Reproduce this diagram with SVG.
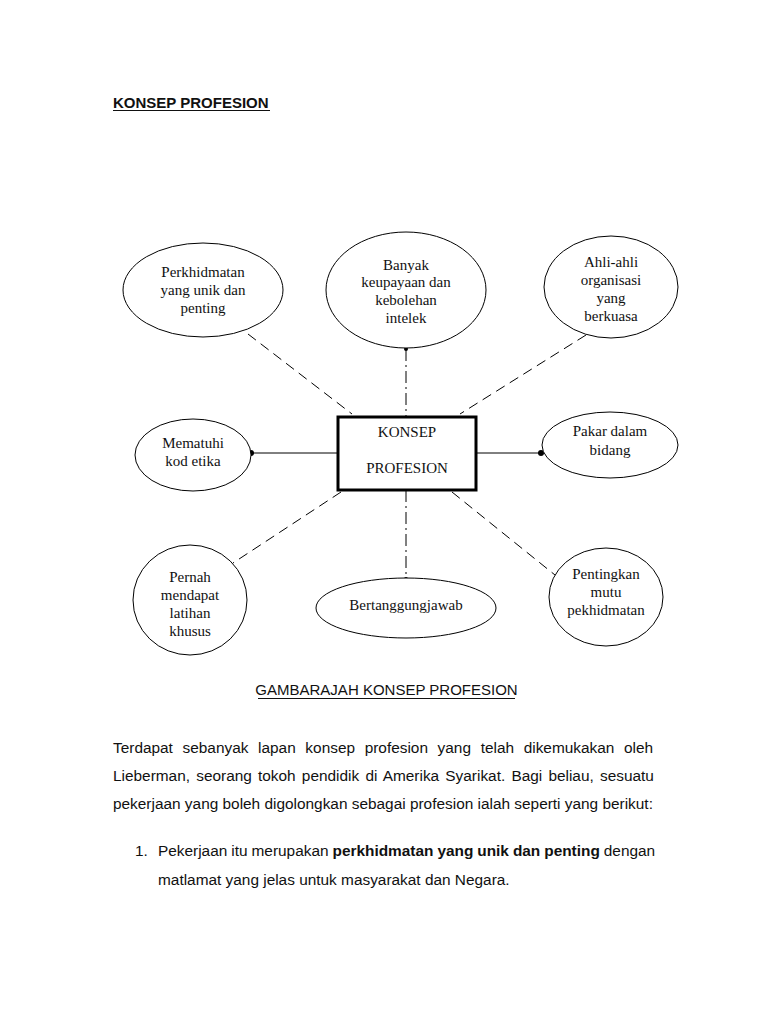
<svg xmlns="http://www.w3.org/2000/svg" width="768" height="1024" viewBox="0 0 768 1024">
<style>
.bg{fill:#ffffff}
.node{fill:#ffffff;stroke:#000;stroke-width:1}
.box{fill:#ffffff;stroke:#000;stroke-width:3}
.nt{font-family:"Liberation Serif","Times New Roman",serif;font-size:15px;fill:#111;text-anchor:middle}
.dash{stroke:#000;stroke-width:1;stroke-dasharray:10 6;fill:none}
.dashdot{stroke:#000;stroke-width:1;stroke-dasharray:12 4 2 4;fill:none}
.solid{stroke:#000;stroke-width:1;fill:none}
.dot{fill:#000}
.body{font-family:"Liberation Sans",Arial,sans-serif;font-size:15.4px;fill:#111}
.title{font-family:"Liberation Sans",Arial,sans-serif;font-size:15px;fill:#111}
.bold{font-weight:bold}
</style>
<rect class="bg" x="0" y="0" width="768" height="1024"/>
<text class="title bold" x="113" y="108">KONSEP PROFESION</text>
<line x1="113" y1="110.5" x2="270" y2="110.5" stroke="#111" stroke-width="1"/>

<g id="connectors">
<line class="dash" x1="248" y1="334" x2="352" y2="414"/>
<line class="dashdot" x1="406" y1="349" x2="406" y2="417"/>
<circle class="dot" cx="406" cy="349" r="2"/>
<line class="dash" x1="586" y1="335" x2="460" y2="414"/>
<line class="solid" x1="251" y1="453" x2="338" y2="453"/>
<circle class="dot" cx="251" cy="453" r="3"/>
<line class="solid" x1="476" y1="453" x2="541" y2="453"/>
<circle class="dot" cx="541" cy="453" r="3"/>
<line class="dash" x1="341" y1="492" x2="233" y2="563"/>
<line class="dashdot" x1="406" y1="490" x2="406" y2="579"/>
<circle class="dot" cx="406" cy="579" r="2"/>
<line class="dash" x1="452" y1="492" x2="555" y2="575"/>
</g>

<g id="n-perkhidmatan">
<ellipse class="node" cx="203" cy="290" rx="80" ry="47"/>
<text class="nt" x="203" y="277">Perkhidmatan</text>
<text class="nt" x="203" y="295">yang unik dan</text>
<text class="nt" x="203" y="313">penting</text>
</g>
<g id="n-banyak">
<ellipse class="node" cx="406" cy="290" rx="80" ry="58"/>
<text class="nt" x="406" y="270">Banyak</text>
<text class="nt" x="406" y="287">keupayaan dan</text>
<text class="nt" x="406" y="305">kebolehan</text>
<text class="nt" x="406" y="323">intelek</text>
</g>
<g id="n-ahli">
<ellipse class="node" cx="611" cy="287" rx="67" ry="51"/>
<text class="nt" x="611" y="267">Ahli-ahli</text>
<text class="nt" x="611" y="285">organisasi</text>
<text class="nt" x="611" y="303">yang</text>
<text class="nt" x="611" y="321">berkuasa</text>
</g>
<g id="n-mematuhi">
<ellipse class="node" cx="193" cy="455" rx="58" ry="36"/>
<text class="nt" x="193" y="448">Mematuhi</text>
<text class="nt" x="193" y="466">kod etika</text>
</g>
<g id="n-konsep">
<rect class="box" x="338" y="417" width="138" height="73"/>
<text class="nt" x="407" y="437">KONSEP</text>
<text class="nt" x="407" y="473">PROFESION</text>
</g>
<g id="n-pakar">
<ellipse class="node" cx="610" cy="445" rx="68" ry="33"/>
<text class="nt" x="610" y="436">Pakar dalam</text>
<text class="nt" x="610" y="455">bidang</text>
</g>
<g id="n-pernah">
<ellipse class="node" cx="190" cy="600" rx="57" ry="55"/>
<text class="nt" x="190" y="582">Pernah</text>
<text class="nt" x="190" y="600">mendapat</text>
<text class="nt" x="190" y="618">latihan</text>
<text class="nt" x="190" y="636">khusus</text>
</g>
<g id="n-bertanggungjawab">
<ellipse class="node" cx="406" cy="608" rx="90" ry="30"/>
<text class="nt" x="406" y="610">Bertanggungjawab</text>
</g>
<g id="n-pentingkan">
<ellipse class="node" cx="606" cy="597" rx="57" ry="49"/>
<text class="nt" x="606" y="579">Pentingkan</text>
<text class="nt" x="606" y="597">mutu</text>
<text class="nt" x="606" y="615">pekhidmatan</text>
</g>

<text class="title" x="386.5" y="695" text-anchor="middle">GAMBARAJAH KONSEP PROFESION</text>
<line x1="258" y1="698.5" x2="515" y2="698.5" stroke="#111" stroke-width="1"/>

<g class="body">
<text x="113" y="753" word-spacing="5.37">Terdapat sebanyak lapan konsep profesion yang telah dikemukakan oleh</text>
<text x="113" y="781" word-spacing="1.92">Lieberman, seorang tokoh pendidik di Amerika Syarikat. Bagi beliau, sesuatu</text>
<text x="113" y="809">pekerjaan yang boleh digolongkan sebagai profesion ialah seperti yang berikut:</text>
<text x="135" y="856">1.</text>
<text x="158" y="856" word-spacing="-0.3">Pekerjaan itu merupakan <tspan class="bold">perkhidmatan yang unik dan penting</tspan> dengan</text>
<text x="158" y="885">matlamat yang jelas untuk masyarakat dan Negara.</text>
</g>
</svg>
